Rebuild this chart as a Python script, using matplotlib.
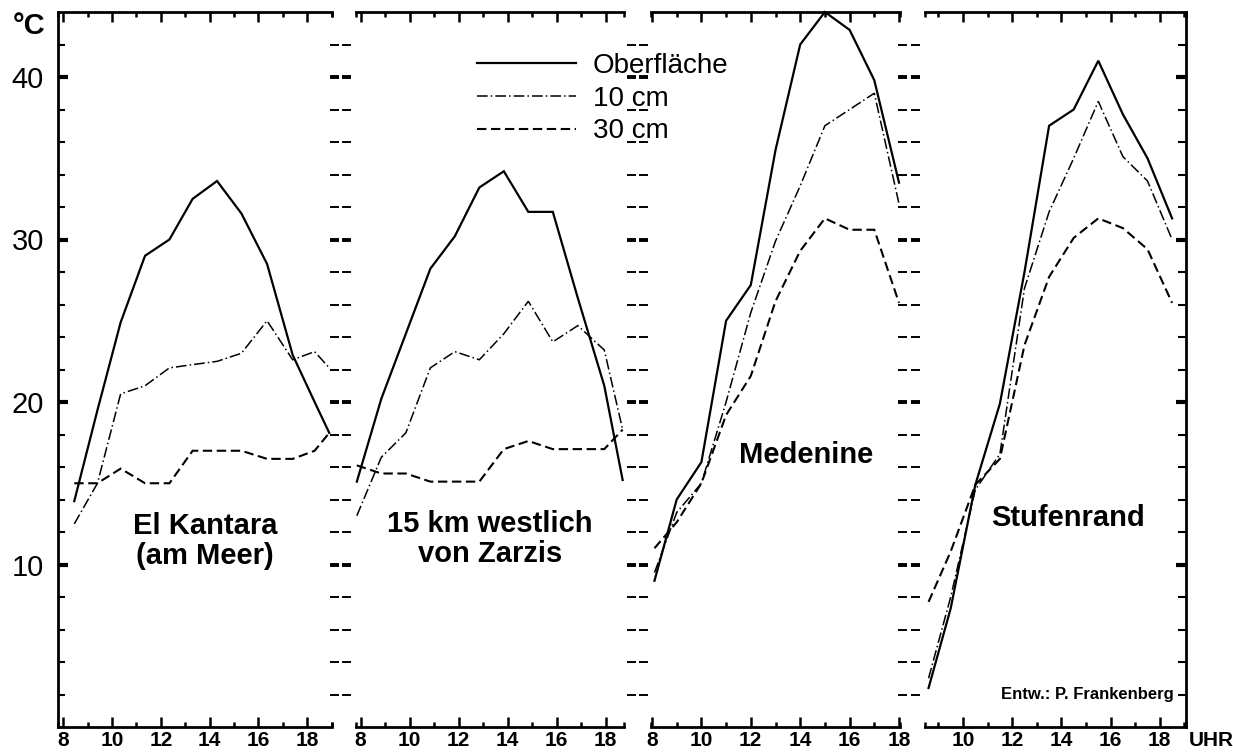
import matplotlib
matplotlib.use("Agg")
import matplotlib.pyplot as plt
from matplotlib.lines import Line2D

plt.rcParams['font.family'] = ['Liberation Sans', 'DejaVu Sans']

W, H, DPI = 1233, 754, 100

# ---- measurements (hour of day, soil temperature in degC) ----
kantara_hours = [8.45, 9.4, 10.35, 11.35, 12.35, 13.3, 14.3, 15.3, 16.35, 17.4, 18.3, 18.9]
kantara_surface = [13.9, 19.5, 24.9, 29.0, 30.0, 32.5, 33.6, 31.6, 28.5, 22.9, 20.0, 18.1]
kantara_10cm = [12.5, 15.0, 20.5, 21.0, 22.1, 22.3, 22.5, 23.0, 25.0, 22.6, 23.1, 22.1]
kantara_30cm = [15.0, 15.0, 15.9, 15.0, 15.0, 17.0, 17.0, 17.0, 16.5, 16.5, 17.0, 18.1]

zarzis_hours = [7.85, 8.85, 9.85, 10.85, 11.85, 12.85, 13.85, 14.85, 15.85, 16.87, 17.95, 18.7]
zarzis_surface = [15.1, 20.2, 24.2, 28.2, 30.2, 33.2, 34.2, 31.7, 31.7, 26.4, 21.0, 15.2]
zarzis_10cm = [13.0, 16.6, 18.1, 22.1, 23.1, 22.6, 24.2, 26.2, 23.7, 24.7, 23.2, 18.3]
zarzis_30cm = [16.1, 15.6, 15.6, 15.1, 15.1, 15.1, 17.1, 17.6, 17.1, 17.1, 17.1, 18.3]

medenine_hours = [8.1, 9, 10, 11, 12, 13, 14, 15, 16, 17, 18]
medenine_surface = [9.0, 14.0, 16.3, 25.0, 27.2, 35.5, 42.0, 44.0, 42.9, 39.8, 33.5]
medenine_10cm = [9.5, 13.2, 15.0, 20.0, 25.5, 29.9, 33.3, 37.0, 38.0, 39.0, 32.2]
medenine_30cm = [11.0, 12.6, 15.0, 19.2, 21.6, 26.2, 29.3, 31.3, 30.6, 30.6, 26.1]

stufen_hours = [8.6, 9.5, 10.5, 11.5, 12.5, 13.5, 14.5, 15.5, 16.5, 17.5, 18.5]
stufen_surface = [2.4, 7.3, 14.9, 19.9, 28.0, 37.0, 38.0, 41.0, 37.7, 35.0, 31.3]
stufen_10cm = [3.0, 8.0, 14.6, 16.8, 27.0, 31.7, 35.0, 38.5, 35.1, 33.6, 30.0]
stufen_30cm = [7.7, 10.8, 14.9, 16.5, 23.5, 27.7, 30.1, 31.3, 30.7, 29.4, 26.1]

station_names = ["El Kantara\n(am Meer)", "15 km westlich\nvon Zarzis", "Medenine", "Stufenrand"]
series_labels = ["Oberfläche", "10 cm", "30 cm"]
y_levels = list(range(2, 44, 2))
y_major = [10, 20, 30, 40]

# ---- styles ----
styles = [
    dict(color='black', lw=1.6, ls='-'),
    dict(color='black', lw=1.1, ls=(0, (7, 2, 1, 2))),
    dict(color='black', lw=1.5, ls=(0, (4.5, 2.2))),
]

fig = plt.figure(figsize=(W / DPI, H / DPI), dpi=DPI)
fig.patch.set_facecolor('white')

Y_TOP, Y_BOT = 12, 727


def add_px_axes(x0, x1):
    return fig.add_axes([x0 / W, 1 - Y_BOT / H, (x1 - x0) / W, (Y_BOT - Y_TOP) / H])


# (left px, right px, px of 8 h, px per hour)
panel_geom = [
    (58, 332, 63.3, 24.4),
    (356, 624, 360.5, 24.5),
    (651, 900, 652.0, 24.7),
    (925, 1186, 913.8, 24.6),
]

panel_data = [
    (kantara_hours, [kantara_surface, kantara_10cm, kantara_30cm]),
    (zarzis_hours, [zarzis_surface, zarzis_10cm, zarzis_30cm]),
    (medenine_hours, [medenine_surface, medenine_10cm, medenine_30cm]),
    (stufen_hours, [stufen_surface, stufen_10cm, stufen_30cm]),
]

axes = []
for i, ((x0, x1, p8, pph), (hours, series)) in enumerate(zip(panel_geom, panel_data)):
    ax = add_px_axes(x0, x1)
    lo = 8 + (x0 - p8) / pph
    hi = 8 + (x1 - p8) / pph
    ax.set_xlim(lo, hi)
    ax.set_ylim(0, 44)
    for vals, st in zip(series, styles):
        ax.plot(hours, vals, color=st['color'], lw=st['lw'], linestyle=st['ls'],
                clip_on=False, solid_joinstyle='miter', dash_joinstyle='miter')

    for side in ['top', 'bottom', 'left', 'right']:
        ax.spines[side].set_linewidth(2.0)
    ax.spines['left'].set_visible(i == 0)
    ax.spines['right'].set_visible(i == 3)

    major = [h for h in range(8, 20, 2) if lo - 1e-6 <= h <= hi + 1e-6]
    minor = [h for h in range(9, 20, 2) if lo - 1e-6 <= h <= hi + 1e-6]
    minor = minor + [lo, hi]
    ax.set_xticks(major)
    ax.set_xticklabels([str(h) for h in major], fontsize=15, fontweight='bold')
    ax.set_xticks(minor, minor=True)
    ax.tick_params(axis='x', which='major', direction='in', length=7, width=1.8,
                   top=True, bottom=True, pad=3)
    ax.tick_params(axis='x', which='minor', direction='in', length=3.5, width=1.8,
                   top=True, bottom=True)

    if i == 0:
        ax.set_yticks(y_major)
        ax.set_yticklabels([str(v) for v in y_major], fontsize=21)
        ax.set_yticks([v for v in y_levels if v not in y_major], minor=True)
        ax.tick_params(axis='y', which='major', direction='in', length=7, width=3.0,
                       left=True, right=False, pad=10)
        ax.tick_params(axis='y', which='minor', direction='in', length=5, width=1.5,
                       left=True, right=False)
    elif i == 3:
        ax.set_yticks(y_major)
        ax.set_yticklabels([])
        ax.set_yticks([v for v in y_levels if v not in y_major], minor=True)
        ax.tick_params(axis='y', which='major', direction='in', length=7, width=3.0,
                       left=False, right=True, labelleft=False)
        ax.tick_params(axis='y', which='minor', direction='in', length=6, width=1.5,
                       left=False, right=True)
    else:
        ax.set_yticks([])
    ax.patch.set_alpha(0)
    axes.append(ax)

# dashed scale marks between the panels
for gx0, gx1 in [(330, 351), (627, 648), (898, 920)]:
    g = add_px_axes(gx0, gx1)
    g.set_ylim(0, 44)
    g.set_xlim(0, 1)
    g.axis('off')
    for v in y_levels:
        lw = 2.8 if v in y_major else 1.4
        g.hlines([v, v], [0.0, 0.58], [0.42, 1.0], colors='black', lw=lw)

# legend
handles = [Line2D([], [], color=st['color'], lw=st['lw'], linestyle=st['ls']) for st in styles]
fig.legend(handles, series_labels, loc='upper left',
           bbox_to_anchor=(477 / W, 1 - 53 / H), frameon=False,
           fontsize=20, handlelength=3.55, handletextpad=0.62,
           labelspacing=0.24, borderpad=0, borderaxespad=0)

# station names
name_pos = [(205, 541), (490, 539), (806, 455), (1068, 518)]
for name, (cx, cy) in zip(station_names, name_pos):
    fig.text(cx / W, 1 - cy / H, name, ha='center', va='center',
             fontsize=21, fontweight='bold', linespacing=1.12)

fig.text(29 / W, 1 - 26 / H, "°C", ha='center', va='center', fontsize=21, fontweight='bold')
fig.text(1174 / W, 1 - 695 / H, "Entw.: P. Frankenberg", ha='right', va='center',
         fontsize=12, fontweight='bold')
fig.text(1189 / W, 1 - 741 / H, "UHR", ha='left', va='center', fontsize=15, fontweight='bold')

fig.savefig("out.png", dpi=DPI, facecolor='white')
